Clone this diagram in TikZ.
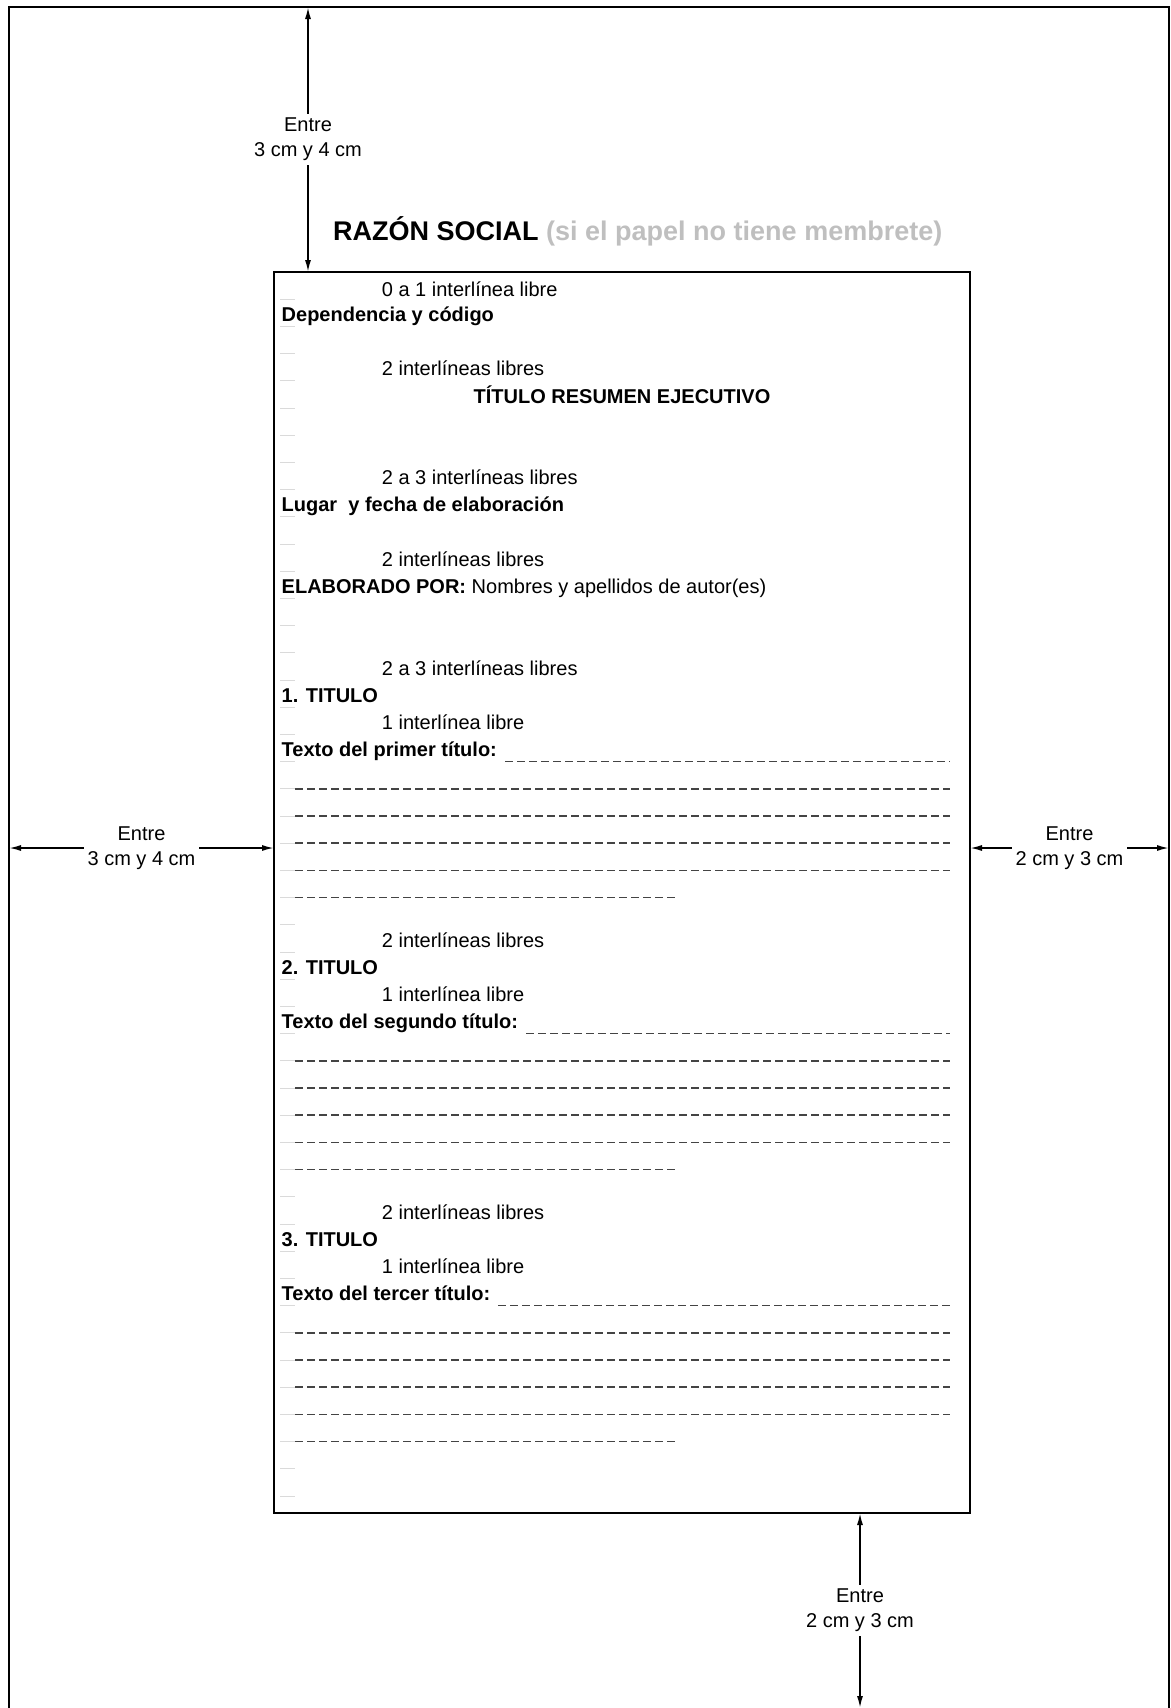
\documentclass[tikz,border=0pt]{standalone}
\usepackage{fontspec}
\setmainfont{Liberation Sans}
\usepackage{xcolor}
\usetikzlibrary{arrows.meta}
\definecolor{membrete}{HTML}{BFBFBF}
\definecolor{marca}{HTML}{DADADA}
\definecolor{raya}{HTML}{444444}
\newcommand{\borde}[1]{(272+27.2*(#1))}
\newcommand{\fila}[1]{(294.2+27.2*(#1))}

\begin{document}
\begin{tikzpicture}[x=1pt,y=-1pt,
    marco/.style={draw, line width=2.8pt, inner sep=0pt, outer sep=0pt, anchor=north west},
    cota/.style={{Latex[length=12pt,width=6pt]}-{Latex[length=12pt,width=6pt]}, line width=1.6pt},
    etiqueta/.style={fill=white, align=center, inner sep=4pt, font=\fontsize{20}{25}\selectfont},
    texto/.style={anchor=base west, inner sep=0pt, font=\fontsize{20}{24}\selectfont},
    negrita/.style={texto, font=\fontsize{20}{24}\selectfont\bfseries},
    marcafila/.style={marca, line width=1pt},
    rayas/.style={raya, line width=1.6pt, dash pattern=on 8pt off 4pt}]
    \useasboundingbox (0,0) rectangle (1170,1708);
    \node [marco, minimum width=1160pt, minimum height=1705pt] (pagina) at (9,7) {};
    \node [marco, minimum width=696pt, minimum height=1241pt] (hoja) at (274,272) {};
    \coordinate (xsup) at (308,0);
    \coordinate (xinf) at (860,0);
    \coordinate (ylat) at (0,848);
    \coordinate (fondo) at (860,1708);
    \coordinate (fin) at (950,0);

    \draw [cota] (pagina.north -| xsup) -- node [etiqueta] {Entre\\3 cm y 4 cm} (hoja.north -| xsup);
    \draw [cota] (pagina.west |- ylat) -- node [etiqueta] {Entre\\3 cm y 4 cm} (hoja.west |- ylat);
    \draw [cota] (hoja.east |- ylat) -- node [etiqueta] {Entre\\2 cm y 3 cm} (pagina.east |- ylat);
    \draw [cota] (hoja.south -| xinf) -- node [etiqueta] {Entre\\2 cm y 3 cm} (fondo);

    \node [anchor=base west, inner sep=0pt, font=\fontsize{27}{32}\selectfont\bfseries] (razon) at (333,240.7)
      {RAZÓN SOCIAL \textcolor{membrete}{(si el papel no tiene membrete)}};

    \foreach \k in {1,...,45}
      \draw [marcafila] (280,{\borde{\k}}) -- (295,{\borde{\k}});

    \node [texto] (n0) at (381.7,{\fila{0}+2}) {0 a 1 interlínea libre};
    \node [negrita] (dep) at (281.5,{\fila{1}}) {Dependencia y código};
    \node [texto] (n1) at (381.7,{\fila{3}}) {2 interlíneas libres};
    \node [negrita, anchor=base] (titulo) at (622,{\fila{4}}) {TÍTULO RESUMEN EJECUTIVO};
    \node [texto] (n2) at (381.7,{\fila{7}}) {2 a 3 interlíneas libres};
    \node [negrita] (lugar) at (281.5,{\fila{8}}) {Lugar~ y fecha de elaboración};
    \node [texto] (n3) at (381.7,{\fila{10}}) {2 interlíneas libres};
    \node [texto] (autor) at (281.5,{\fila{11}}) {\textbf{ELABORADO POR:} Nombres y apellidos de autor(es)};
    \node [texto] (n4) at (381.7,{\fila{14}}) {2 a 3 interlíneas libres};
    \node [negrita] (tit1) at (281.5,{\fila{15}}) {1. TITULO};
    \node [texto] (n5) at (381.7,{\fila{16}}) {1 interlínea libre};
    \node [negrita] (txt1) at (281.5,{\fila{17}}) {Texto del primer título:};
    \node [texto] (n6) at (381.7,{\fila{24}}) {2 interlíneas libres};
    \node [negrita] (tit2) at (281.5,{\fila{25}}) {2. TITULO};
    \node [texto] (n7) at (381.7,{\fila{26}}) {1 interlínea libre};
    \node [negrita] (txt2) at (281.5,{\fila{27}}) {Texto del segundo título:};
    \node [texto] (n8) at (381.7,{\fila{34}}) {2 interlíneas libres};
    \node [negrita] (tit3) at (281.5,{\fila{35}}) {3. TITULO};
    \node [texto] (n9) at (381.7,{\fila{36}}) {1 interlínea libre};
    \node [negrita] (txt3) at (281.5,{\fila{37}}) {Texto del tercer título:};

    \foreach \t in {txt1,txt2,txt3} {
      \coordinate (r\t) at ([xshift=8pt,yshift=-5pt]\t.base east);
      \draw [rayas] (r\t) -- (r\t -| fin);
    }
    \foreach \s in {0,10,20} {
      \foreach \k in {19,...,22}
        \draw [rayas] (295,{\borde{\k+\s}}) -- (950,{\borde{\k+\s}});
      \draw [rayas] (295,{\borde{23+\s}}) -- (677,{\borde{23+\s}});
    }
\end{tikzpicture}
\end{document}
